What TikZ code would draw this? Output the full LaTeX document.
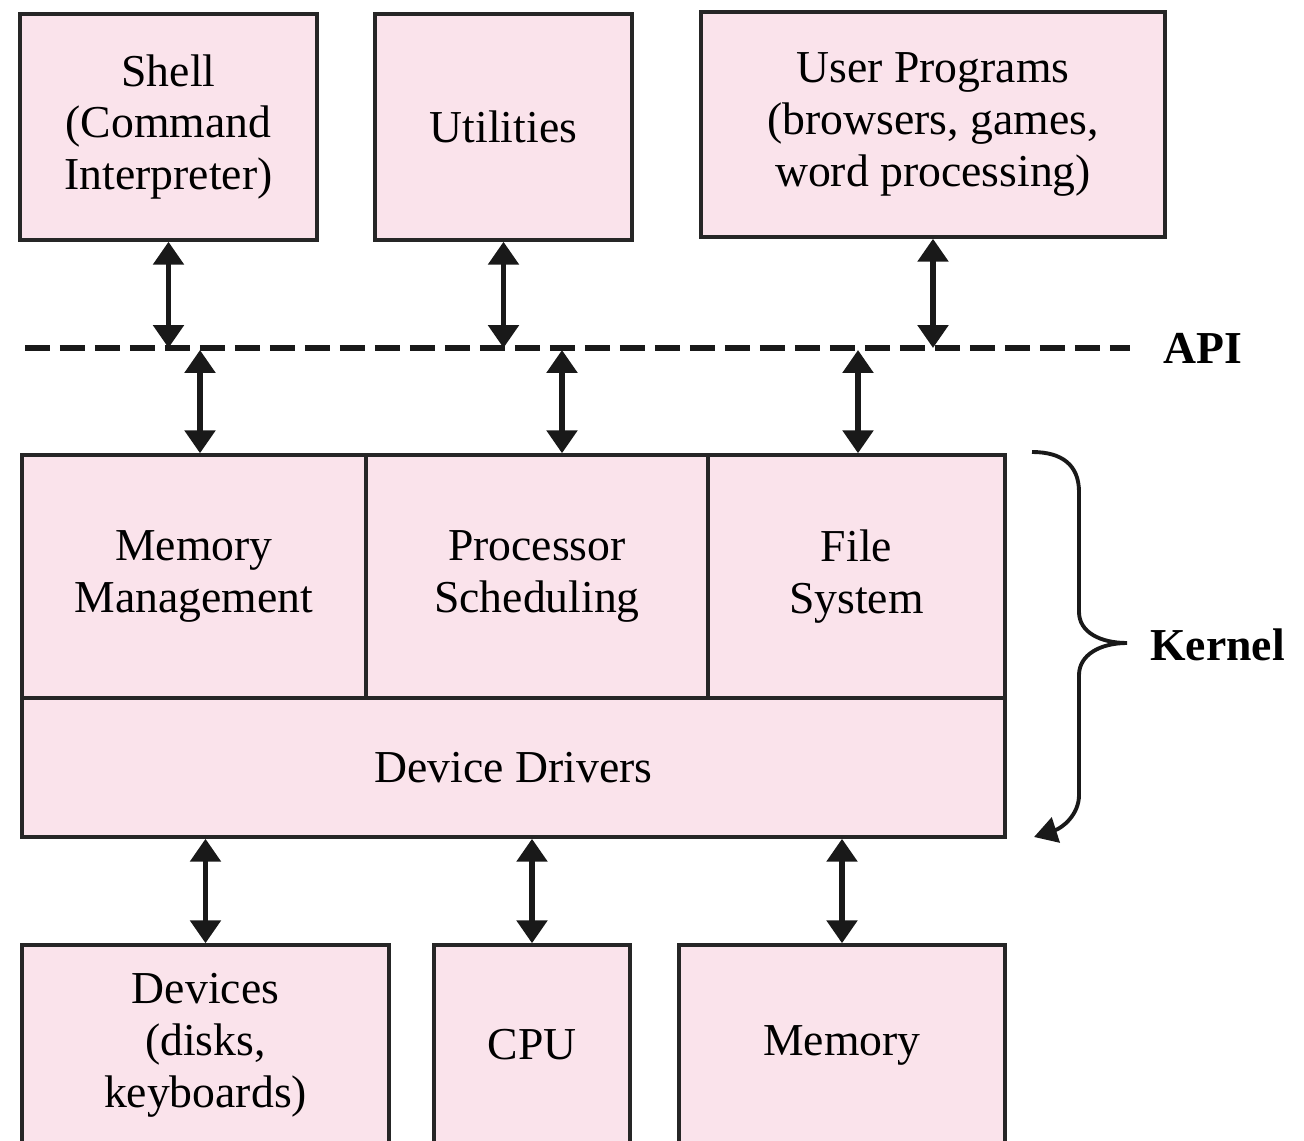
\documentclass[tikz,border=0pt]{standalone}
\usepackage{fontspec}
\setmainfont{Liberation Serif}
\usetikzlibrary{positioning,arrows.meta}
\definecolor{boxpink}{RGB}{250,227,235}

\begin{document}
\begin{tikzpicture}[x=0.02cm, y=-0.02cm,
						block/.style={rectangle, draw=black!85, fill=boxpink, line width=2pt, align=center, inner sep=0pt, font=\fontsize{26}{29.5}\selectfont},
						label/.style={rectangle, anchor=west, inner sep=0pt, font=\fontsize{26}{29.5}\selectfont\bfseries},
						link/.style={line width=3.2pt, black!90, {Triangle[width=0.6cm,length=0.46cm]}-{Triangle[width=0.6cm,length=0.46cm]}}
					]
					\useasboundingbox (0,0) rectangle (1304,1141);
					\node[block, minimum width=5.94cm, minimum height=4.52cm] (shell) at (168.5,127) {Shell\\(Command\\Interpreter)};
					\node[block, minimum width=5.14cm, minimum height=4.52cm] (util) at (503.5,127) {Utilities};
					\node[block, minimum width=9.28cm, minimum height=4.5cm] (user) at (933,124.5) {User Programs\\(browsers, games,\\word processing)};
					\node[block, minimum width=6.88cm, minimum height=4.86cm] (memmgmt) at (194,576.5) {Memory\\Management};
					\node[block, minimum width=6.84cm, minimum height=4.86cm] (procsched) at (537,576.5) {Processor\\Scheduling};
					\node[block, minimum width=5.94cm, minimum height=4.86cm] (filesys) at (856.5,576.5) {File\\System};
					\node[block, minimum width=19.66cm, minimum height=2.78cm] (drivers) at (513.5,767.5) {Device Drivers};
					\node[block, minimum width=7.34cm, minimum height=4cm] (devices) at (205.5,1045) {Devices\\(disks,\\keyboards)};
					\node[block, minimum width=3.92cm, minimum height=4cm] (cpu) at (532,1045) {CPU};
					\node[block, minimum width=6.52cm, minimum height=4cm] (memory) at (842,1045) {Memory};
					\coordinate (apiL) at (25,348);
					\coordinate (apiR) at (1130,348);
					\coordinate (b1) at (200,350);
					\coordinate (b2) at (562,350);
					\coordinate (b3) at (858,350);
					\node[label] (api) at (1163,348) {API};
					\node[label] (kernel) at (1150,645) {Kernel};
					\draw[line width=3.6pt, black!90, dash pattern=on 0.5cm off 0.2cm] (apiL) -- (apiR);
					\begin{scope}
					\draw[link] (shell.south) -- (shell.south |- apiL);
					\draw[link] (util.south) -- (util.south |- apiL);
					\draw[link] (user.south) -- (user.south |- apiL);
					\draw[link] (b1) -- (b1 |- memmgmt.north);
					\draw[link] (b2) -- (b2 |- procsched.north);
					\draw[link] (b3) -- (b3 |- filesys.north);
					\draw[link] (drivers.south -| devices.north) -- (devices.north);
					\draw[link] (drivers.south -| cpu.north) -- (cpu.north);
					\draw[link] (drivers.south -| memory.north) -- (memory.north);
					\end{scope}
					\draw[line width=2.2pt, black!90, -{Triangle[width=0.52cm,length=0.46cm]}] (1032,452) .. controls (1062,452) and (1079,465) .. (1079,492) -- (1079,612) .. controls (1079,632) and (1100,643) .. (1127,643) .. controls (1100,643) and (1079,655) .. (1079,675) -- (1079,795) .. controls (1079,815) and (1062,828) .. (1034,837);
					\end{tikzpicture}
\end{document}
